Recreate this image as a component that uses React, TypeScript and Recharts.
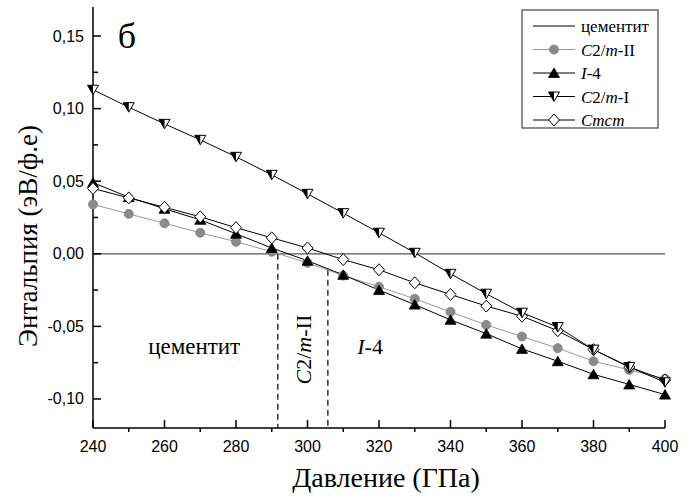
import React from "react";
import { LineChart, Line, XAxis, YAxis, ReferenceLine, ReferenceDot } from "recharts";

const pressure = [240, 250, 260, 270, 280, 290, 300, 310, 320, 330, 340, 350, 360, 370, 380, 390, 400];
const cementite = [0, 0, 0, 0, 0, 0, 0, 0, 0, 0, 0, 0, 0, 0, 0, 0, 0];
const c2m2 = [0.034, 0.0275, 0.021, 0.0145, 0.0083, 0.0014, -0.0062, -0.015, -0.0227, -0.031, -0.04, -0.049, -0.057, -0.065, -0.074, -0.08, -0.086];
const i4 = [0.049, 0.039, 0.031, 0.0234, 0.0138, 0.004, -0.0048, -0.0145, -0.025, -0.035, -0.0455, -0.055, -0.0655, -0.074, -0.083, -0.09, -0.097];
const c2m1 = [0.113, 0.101, 0.0895, 0.0785, 0.0668, 0.0544, 0.0413, 0.028, 0.0145, 0.0007, -0.0138, -0.0275, -0.0406, -0.0505, -0.066, -0.078, -0.0885];
const cmcm = [0.045, 0.0385, 0.032, 0.0255, 0.018, 0.011, 0.004, -0.004, -0.011, -0.02, -0.028, -0.036, -0.043, -0.053, -0.066, -0.078, -0.087];

const xTicks = [240, 250, 260, 270, 280, 290, 300, 310, 320, 330, 340, 350, 360, 370, 380, 390, 400];
const yTicks = [-0.1, -0.075, -0.05, -0.025, 0, 0.025, 0.05, 0.075, 0.1, 0.125, 0.15];
const xMajor = [240, 260, 280, 300, 320, 340, 360, 380, 400];
const yMajor = [-0.1, -0.05, 0, 0.05, 0.1, 0.15];

const transition1 = 291.7;
const transition2 = 305.7;
const transition2Y = -0.011;

const legendNames = ["цементит", "C2/m-II", "I-4", "C2/m-I", "Cmcm"];

const data = pressure.map((p, i) => ({
  p,
  cem: cementite[i],
  c2m2: c2m2[i],
  i4: i4[i],
  c2m1: c2m1[i],
  cmcm: cmcm[i],
}));

const SERIF = "'Liberation Serif', 'Times New Roman', serif";
const SANS = "'Liberation Sans', Arial, sans-serif";

function marker(kind: string, cx: number, cy: number, key?: any) {
  if (kind === "circle") {
    return <circle key={key} cx={cx} cy={cy} r={4.5} fill="#8a8a8a" stroke="#8a8a8a" />;
  }
  if (kind === "triUp") {
    return (
      <polygon
        key={key}
        points={`${cx - 5.5},${cy + 4.5} ${cx + 5.5},${cy + 4.5} ${cx},${cy - 5}`}
        fill="#000"
        stroke="#000"
        strokeWidth={0.8}
      />
    );
  }
  if (kind === "triDown") {
    return (
      <g key={key}>
        <polygon
          points={`${cx - 5.5},${cy - 4.5} ${cx + 5.5},${cy - 4.5} ${cx},${cy + 5}`}
          fill="#fff"
          stroke="#000"
          strokeWidth={1}
        />
        <polygon points={`${cx - 5.5},${cy - 4.5} ${cx},${cy - 4.5} ${cx},${cy + 5}`} fill="#000" />
      </g>
    );
  }
  if (kind === "diamond") {
    return (
      <polygon
        key={key}
        points={`${cx},${cy - 6} ${cx + 5.5},${cy} ${cx},${cy + 6} ${cx - 5.5},${cy}`}
        fill="#fff"
        stroke="#000"
        strokeWidth={1}
      />
    );
  }
  return <g key={key} />;
}

const makeDot = (kind: string) => (props: any) => {
  const { cx, cy, index } = props;
  if (cx == null || cy == null) return <g key={`d-${kind}-${index}`} />;
  return marker(kind, cx, cy, `d-${kind}-${index}`);
};

const XTick = (props: any) => {
  const { x, y, payload } = props;
  const v = payload.value;
  const major = xMajor.includes(v);
  return (
    <g>
      {major ? (
        <line x1={x} y1={y} x2={x} y2={y - 8} stroke="#000" strokeWidth={1.5} />
      ) : (
        <line x1={x} y1={y} x2={x} y2={y + 4} stroke="#000" strokeWidth={1.5} />
      )}
      {major && (
        <text x={x} y={y + 24} textAnchor="middle" fontFamily={SANS} fontSize={16} fill="#000">
          {v}
        </text>
      )}
    </g>
  );
};

const fmtY = (v: number) => {
  const s = v.toFixed(2).replace(".", ",");
  return s === "-0,00" ? "0,00" : s;
};

const YTick = (props: any) => {
  const { x, y, payload } = props;
  const v = payload.value;
  const major = yMajor.some((m) => Math.abs(m - v) < 1e-9);
  return (
    <g>
      <line x1={x} y1={y} x2={x + (major ? 8 : 5)} y2={y} stroke="#000" strokeWidth={1.5} />
      {major && (
        <text x={x - 9} y={y + 5.5} textAnchor="end" fontFamily={SANS} fontSize={16} fill="#000">
          {fmtY(v)}
        </text>
      )}
    </g>
  );
};

const legendStyles = [
  { stroke: "#000", kind: "none" },
  { stroke: "#999", kind: "circle" },
  { stroke: "#000", kind: "triUp" },
  { stroke: "#000", kind: "triDown" },
  { stroke: "#000", kind: "diamond" },
];

function LegendLabel({ name, x, y }: { name: string; x: number; y: number }) {
  const common = { x, y, fontFamily: SERIF, fontSize: 17, fill: "#000" } as any;
  if (name === "C2/m-II" || name === "C2/m-I") {
    const suffix = name.split("-")[1];
    return (
      <text {...common}>
        <tspan fontStyle="italic">C</tspan>2/<tspan fontStyle="italic">m</tspan>-{suffix}
      </text>
    );
  }
  if (name === "I-4") {
    return (
      <text {...common}>
        <tspan fontStyle="italic">I</tspan>-4
      </text>
    );
  }
  if (name === "Cmcm") {
    return (
      <text {...common} fontStyle="italic">
        Cmcm
      </text>
    );
  }
  return <text {...common}>{name}</text>;
}

function LegendBox() {
  return (
    <svg
      width={138}
      height={120}
      style={{ position: "absolute", left: 521, top: 9 }}
    >
      <rect x={1} y={1} width={136} height={118} fill="#fff" stroke="#444" strokeWidth={1.2} />
      {legendNames.map((n, i) => {
        const y = 17 + i * 23.5;
        const st = legendStyles[i];
        return (
          <g key={n}>
            <line x1={12} y1={y} x2={54} y2={y} stroke={st.stroke} strokeWidth={1} />
            {marker(st.kind, 33, y)}
            <LegendLabel name={n} x={60} y={y + 6} />
          </g>
        );
      })}
    </svg>
  );
}

const textLabel = (render: (x: number, y: number) => React.ReactNode) => (props: any) => {
  const vb = props.viewBox || {};
  const x = vb.x + (vb.width || 0) / 2;
  const y = vb.y + (vb.height || 0) / 2;
  return render(x, y);
};

export default function App() {
  return (
    <div style={{ position: "absolute", left: 0, top: 0, width: 696, height: 501, background: "#fff" }}>
      <LineChart
        width={696}
        height={501}
        data={data}
        margin={{ top: 7, right: 31, bottom: 0, left: 0 }}
      >
        <XAxis
          dataKey="p"
          type="number"
          domain={[240, 400]}
          ticks={xTicks}
          interval={0}
          tick={<XTick />}
          tickLine={false}
          tickSize={0}
          tickMargin={0}
          height={73}
          axisLine={{ stroke: "#000", strokeWidth: 1.5 }}
          label={textLabel(() => (
            <text x={386} y={487} textAnchor="middle" fontFamily={SERIF} fontSize={28} fill="#000">
              Давление (ГПа)
            </text>
          ))}
        />
        <XAxis
          xAxisId="top"
          orientation="top"
          dataKey="p"
          type="number"
          domain={[240, 400]}
          height={0}
          tick={false}
          tickLine={false}
          axisLine={{ stroke: "#000", strokeWidth: 1.5 }}
        />
        <YAxis
          type="number"
          domain={[-0.12, 0.17]}
          ticks={yTicks}
          interval={0}
          tick={<YTick />}
          tickLine={false}
          tickSize={0}
          tickMargin={0}
          width={93}
          axisLine={{ stroke: "#000", strokeWidth: 1.5 }}
          allowDataOverflow
          label={textLabel(() => (
            <text
              x={28}
              y={236}
              transform="rotate(-90 28 236)"
              textAnchor="middle"
              dominantBaseline="central"
              fontFamily={SERIF}
              fontSize={27}
              fill="#000"
            >
              Энтальпия (эВ/ф.е)
            </text>
          ))}
        />
        <YAxis
          yAxisId="right"
          orientation="right"
          type="number"
          domain={[-0.12, 0.17]}
          width={0}
          tick={false}
          tickLine={false}
          axisLine={{ stroke: "#000", strokeWidth: 1.5 }}
        />
        <ReferenceLine
          segment={[{ x: transition1, y: 0 }, { x: transition1, y: -0.12 }]}
          stroke="#000"
          strokeWidth={1.2}
          strokeDasharray="6 4"
          ifOverflow="visible"
        />
        <ReferenceLine
          segment={[{ x: transition2, y: transition2Y }, { x: transition2, y: -0.12 }]}
          stroke="#000"
          strokeWidth={1.2}
          strokeDasharray="6 4"
          ifOverflow="visible"
        />
        <Line dataKey="cem" stroke="#555" strokeWidth={1.3} dot={false} isAnimationActive={false} />
        <Line dataKey="c2m2" stroke="#9a9a9a" strokeWidth={1} dot={makeDot("circle")} isAnimationActive={false} />
        <Line dataKey="i4" stroke="#000" strokeWidth={1} dot={makeDot("triUp")} isAnimationActive={false} />
        <Line dataKey="cmcm" stroke="#000" strokeWidth={1} dot={makeDot("diamond")} isAnimationActive={false} />
        <Line dataKey="c2m1" stroke="#000" strokeWidth={1} dot={makeDot("triDown")} isAnimationActive={false} />
        <ReferenceDot
          x={249.5}
          y={0.15}
          r={0}
          fill="none"
          stroke="none"
          label={textLabel((x, y) => (
            <text x={x} y={y + 12} textAnchor="middle" fontFamily={SERIF} fontSize={36} fill="#000">
              б
            </text>
          ))}
        />
        <ReferenceDot
          x={268.3}
          y={-0.064}
          r={0}
          fill="none"
          stroke="none"
          label={textLabel((x, y) => (
            <text x={x} y={y + 7} textAnchor="middle" fontFamily={SERIF} fontSize={23} fill="#000">
              цементит
            </text>
          ))}
        />
        <ReferenceDot
          x={298.8}
          y={-0.066}
          r={0}
          fill="none"
          stroke="none"
          label={textLabel((x, y) => (
            <text
              x={x}
              y={y}
              transform={`rotate(-90 ${x} ${y})`}
              textAnchor="middle"
              dominantBaseline="central"
              fontFamily={SERIF}
              fontSize={22}
              fill="#000"
            >
              <tspan fontStyle="italic">C</tspan>2/<tspan fontStyle="italic">m</tspan>-II
            </text>
          ))}
        />
        <ReferenceDot
          x={317.5}
          y={-0.064}
          r={0}
          fill="none"
          stroke="none"
          label={textLabel((x, y) => (
            <text x={x} y={y + 7} textAnchor="middle" fontFamily={SERIF} fontSize={22} fill="#000">
              <tspan fontStyle="italic">I</tspan>-4
            </text>
          ))}
        />
      </LineChart>
      <LegendBox />
    </div>
  );
}
